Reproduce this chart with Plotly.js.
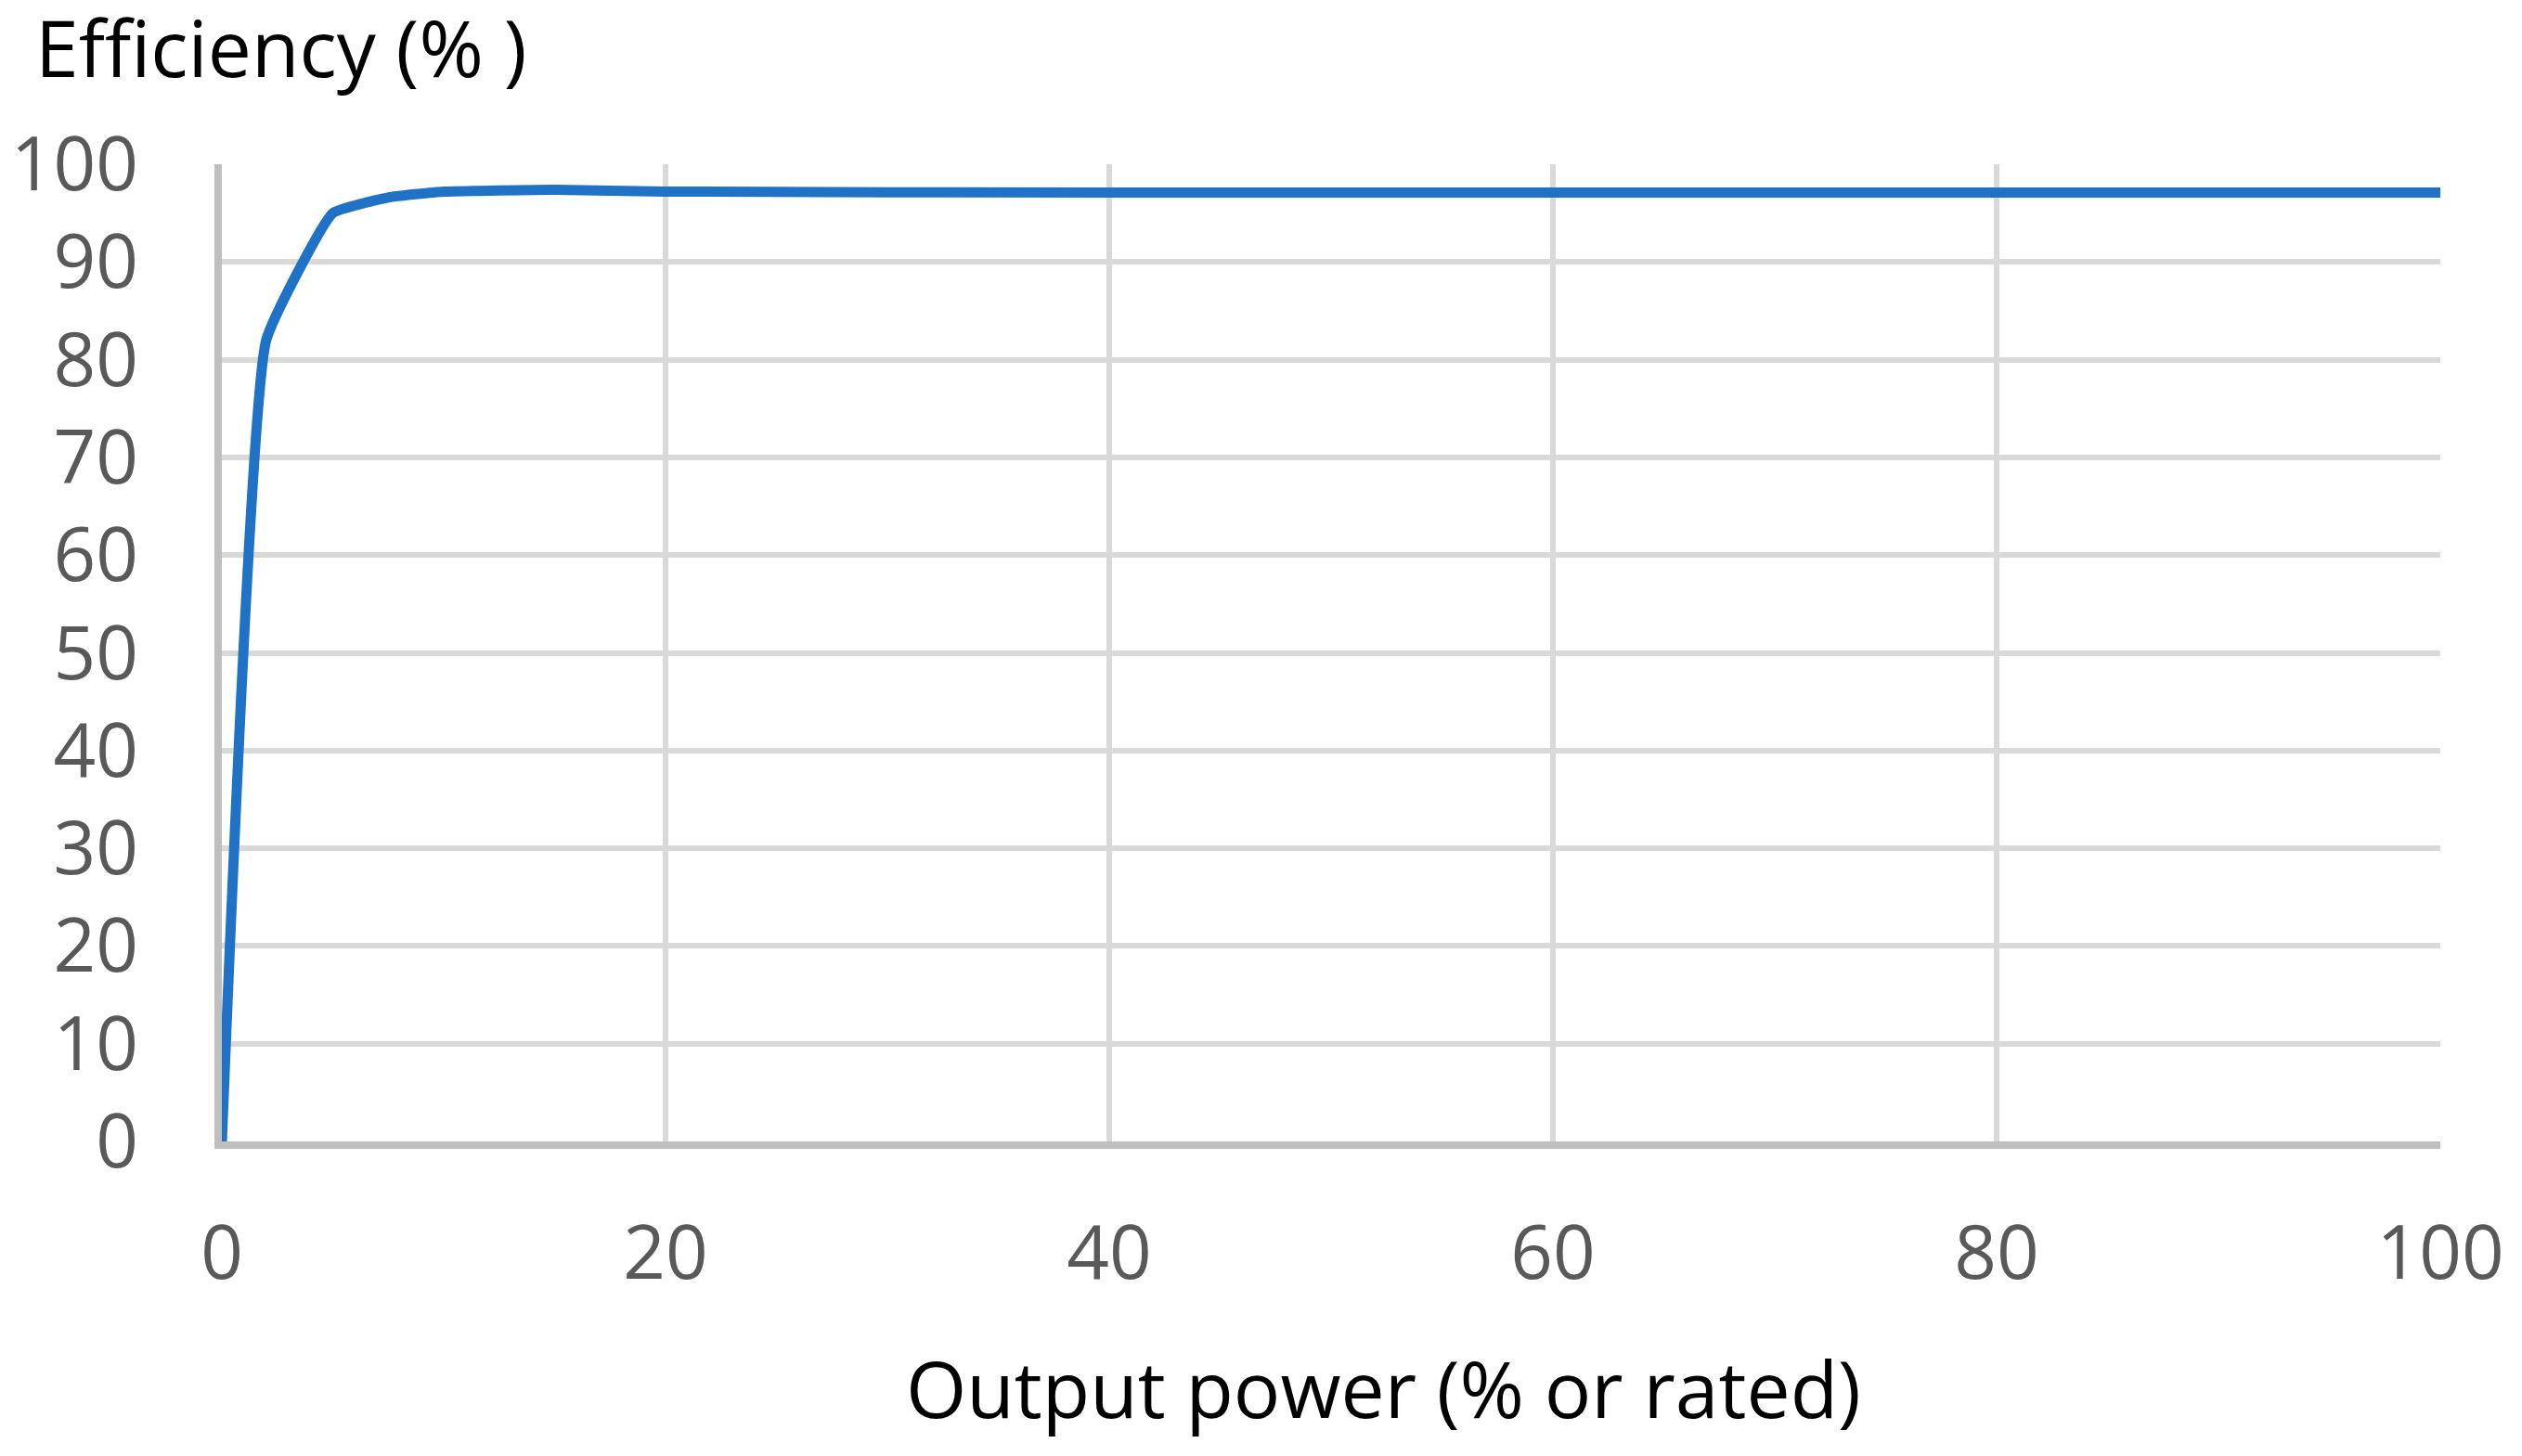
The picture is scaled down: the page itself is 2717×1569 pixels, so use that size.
<!DOCTYPE html>
<html>
<head>
<meta charset="utf-8">
<script src="https://cdn.plot.ly/plotly-3.0.1.min.js"></script>
<style>html,body{margin:0;padding:0;background:#fff;}#chart{width:2717px;height:1569px;}</style>
</head>
<body>
<div id="chart"></div>
<script>
// Data
const outputPower = [0, 2, 5, 7.5, 10, 15, 20, 40, 60, 80, 100];
const efficiency  = [0, 82, 95, 96.6, 97.2, 97.4, 97.2, 97.1, 97.1, 97.1, 97.1];
const xTicks = [0, 20, 40, 60, 80, 100];
const yTicks = [0, 10, 20, 30, 40, 50, 60, 70, 80, 90, 100];
const yTitle = "Efficiency (% )";
const xTitle = "Output power (% or rated)";

const FONT = "Open Sans, Liberation Sans, Arial, sans-serif";

const trace = {
  x: outputPower,
  y: efficiency,
  type: "scatter",
  mode: "lines",
  line: {color: "#1F72C6", width: 11, shape: "spline", smoothing: 0.35},
  hoverinfo: "skip"
};

const layout = {
  width: 2717,
  height: 1569,
  margin: {l: 239, r: 88, t: 177, b: 339, pad: 0},
  paper_bgcolor: "#ffffff",
  plot_bgcolor: "#ffffff",
  showlegend: false,
  font: {family: FONT, color: "#595959", size: 80},
  title: {
    text: yTitle,
    font: {family: FONT, size: 84, color: "#000000"},
    xref: "container", yref: "container",
    x: 38 / 2717, xanchor: "left",
    y: 1 - 54 / 1569, yanchor: "middle"
  },
  xaxis: {
    range: [0, 100],
    tickmode: "array",
    tickvals: xTicks,
    ticktext: xTicks.map(String),
    ticks: "",
    showgrid: true,
    gridcolor: "#D9D9D9",
    gridwidth: 6,
    zeroline: false,
    showline: true,
    linecolor: "#BFBFBF",
    linewidth: 8,
    ticklabelstandoff: 44,
    tickfont: {family: FONT, size: 80, color: "#595959"},
    fixedrange: true
  },
  yaxis: {
    range: [0, 100],
    tickmode: "array",
    tickvals: yTicks,
    ticktext: yTicks.map(String),
    ticks: "",
    showgrid: true,
    gridcolor: "#D9D9D9",
    gridwidth: 6,
    zeroline: false,
    showline: true,
    linecolor: "#BFBFBF",
    linewidth: 8,
    ticklabelstandoff: 66,
    tickfont: {family: FONT, size: 80, color: "#595959"},
    fixedrange: true
  },
  annotations: [{
    text: xTitle,
    xref: "paper", yref: "paper",
    x: (1490 - 239) / 2390, xanchor: "center",
    y: (1230 - 1495) / 1053, yanchor: "middle",
    showarrow: false,
    font: {family: FONT, size: 84, color: "#000000"}
  }]
};

Plotly.newPlot("chart", [trace], layout, {staticPlot: true, displayModeBar: false});
</script>
</body>
</html>
